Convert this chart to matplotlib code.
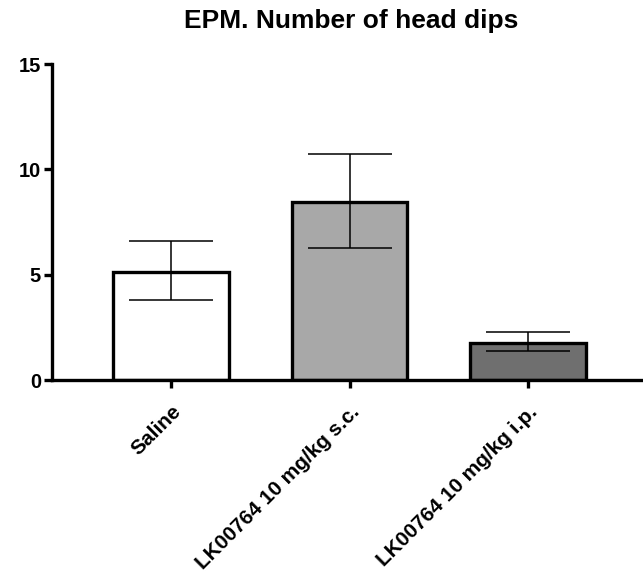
import matplotlib.pyplot as plt
import numpy as np

plt.rcParams['font.family'] = ['Liberation Sans', 'DejaVu Sans']

groups = ["Saline", "LK00764 10 mg/kg s.c.", "LK00764 10 mg/kg i.p."]
means = [5.15, 8.45, 1.78]
err_upper = [1.45, 2.3, 0.5]
err_lower = [1.35, 2.2, 0.42]
bar_colors = ["white", "#a8a8a8", "#6f6f6f"]

fig = plt.figure(figsize=(6.43, 5.72), dpi=100)
ax = fig.add_axes([52 / 643, 192 / 572, 1 - 52 / 643, 316 / 572])

x = np.arange(len(groups))
ax.bar(x, means, width=0.645, color=bar_colors, edgecolor="black", linewidth=2.4, zorder=2)
ax.errorbar(x, means, yerr=[err_lower, err_upper], fmt="none", ecolor="black",
            elinewidth=1.1, capsize=30, capthick=1.1, zorder=3)

ax.set_xlim(-0.667, 2.644)
ax.set_ylim(0, 15)
ax.set_yticks([0, 5, 10, 15])
ax.set_xticks(x)
ax.set_xticklabels(groups, rotation=45, ha="right", rotation_mode="anchor",
                   fontsize=15, fontweight="bold")
for lbl in ax.get_yticklabels():
    lbl.set_fontsize(14.5)
    lbl.set_fontweight("bold")

ax.spines["top"].set_visible(False)
ax.spines["right"].set_visible(False)
ax.spines["left"].set_linewidth(2.4)
ax.spines["bottom"].set_linewidth(2.4)
ax.tick_params(axis="both", length=6, width=2.4)
ax.tick_params(axis="x", pad=10)
ax.tick_params(axis="y", pad=2)

fig.text(351 / 643, 1 - 21 / 572, "EPM. Number of head dips", ha="center", va="center",
         fontsize=19, fontweight="bold")

fig.savefig("out.png", dpi=100)
